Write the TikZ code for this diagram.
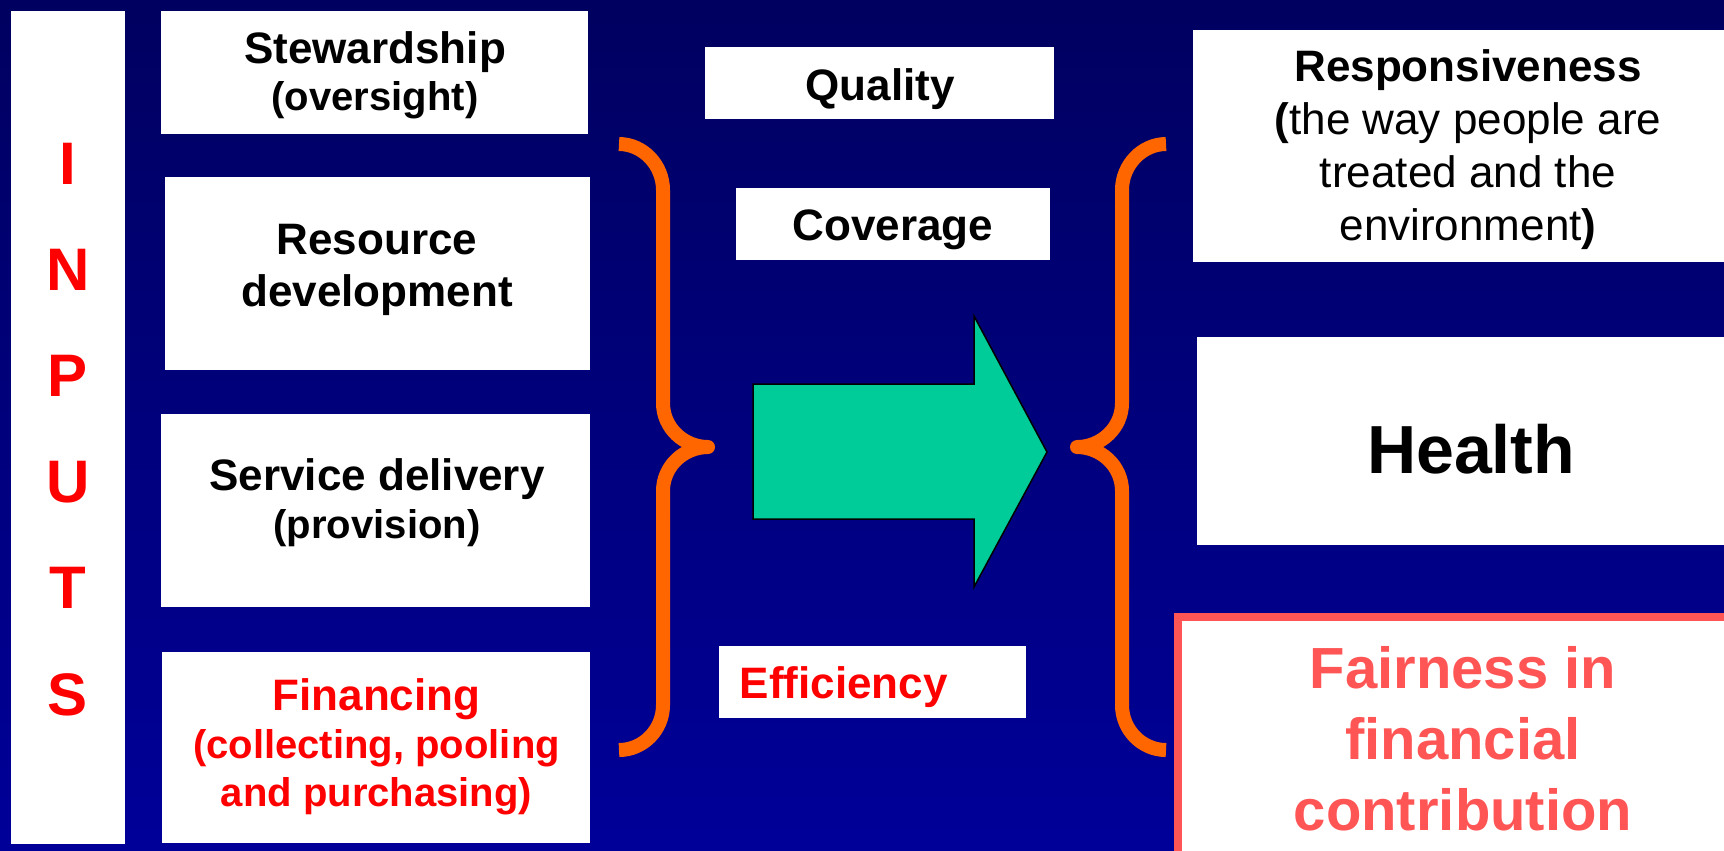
\documentclass[tikz,border=0pt]{standalone}
\usepackage{fontspec}
\setmainfont{Liberation Sans}
\usetikzlibrary{fit}

\definecolor{navytop}{HTML}{000060}
\definecolor{navybot}{HTML}{000099}
\definecolor{braceorange}{HTML}{FF6600}
\definecolor{arrowgreen}{HTML}{00CC99}
\definecolor{fairred}{HTML}{FF5555}

\newcommand{\smallpx}{\fontsize{11.38pt}{13.66pt}\selectfont}

\tikzset{
  box/.style={fill=white, inner sep=0pt, outer sep=0pt},
  lbl/.style={inner sep=0pt, align=center, font=\bfseries\fontsize{12.52pt}{13.66pt}\selectfont},
  inputs/.style={inner sep=0pt, text=red, font=\bfseries\fontsize{17.07pt}{18pt}\selectfont},
  brace/.style={draw=braceorange, line width=3.98pt, line join=round},
}

\begin{document}
\begin{tikzpicture}[x=0.01cm, y=-0.01cm]
          \useasboundingbox (0,0) rectangle (1724,850);
          \shade[top color=navytop, bottom color=navybot] (0,0) rectangle (1724,850);
          \clip (0,0) rectangle (1724,850);

          % inputs column
          \node[box, fit={(11,11) (125,844)}] (inbar) {};
          \foreach \l [count=\i from 0] in {I,N,P,U,T,S} {
            \node[inputs, anchor=base] (in\l) at (68,{184+106.2*\i}) {\l};
          }

          % the four functions
          \node[box, fit={(161,11) (588,134)}] (stew) {};
          \node[box, fit={(165,177) (590,370)}] (resdev) {};
          \node[box, fit={(161,414) (590,607)}] (servdel) {};
          \node[box, fit={(162,652) (590,843)}] (fin) {};
          \node[lbl, font=\bfseries\fontsize{12.52pt}{13.37pt}\selectfont] (stew-t) at (375,75) {Stewardship\\{\smallpx(oversight)}};
          \node[lbl, font=\bfseries\fontsize{12.52pt}{14.79pt}\selectfont] (resdev-t) at (377,269.5) {Resource\\development};
          \node[lbl] (servdel-t) at (377,502.5) {Service delivery\\{\smallpx(provision)}};
          \node[lbl, text=red, font=\bfseries\fontsize{11.38pt}{13.66pt}\selectfont] (fin-t) at (376.5,746.5)
            {{\fontsize{12.52pt}{13.66pt}\selectfont Financing}\\(collecting, pooling\\and purchasing)};

          % intermediate goals
          \node[box, fit={(705,47) (1054,119)}] (qual) {};
          \node[box, fit={(736,188) (1050,260)}] (cov) {};
          \node[box, fit={(719,646) (1026,718)}] (eff) {};
          \node[lbl, anchor=base] (qual-t) at (880,100) {Quality};
          \node[lbl, anchor=base] (cov-t) at (893,240) {Coverage};
          \node[lbl, anchor=base west, text=red] (eff-t) at (739,698) {Efficiency};

          % braces and arrow
          \draw[brace] (619,144) .. controls (643,144) and (663,165) .. (663,190) -- (663,403)
            .. controls (663,428) and (684,447) .. (708,447)
            .. controls (684,447) and (663,466) .. (663,491) -- (663,705)
            .. controls (663,730) and (643,750) .. (619,750);
          \draw[brace] (1166,144) .. controls (1142,144) and (1122,165) .. (1122,190) -- (1122,403)
            .. controls (1122,428) and (1101,447) .. (1077,447)
            .. controls (1101,447) and (1122,466) .. (1122,491) -- (1122,705)
            .. controls (1122,730) and (1142,750) .. (1166,750);
          \draw[fill=arrowgreen, line width=0.43pt] (753,384) -- (974,384) -- (974,316) -- (1047,452)
            -- (974,587) -- (974,519) -- (753,519) -- cycle;

          % goals
          \node[box, fit={(1193,30) (1740,262)}] (resp) {};
          \node[box, fit={(1197,337) (1740,545)}] (health) {};
          \node[box, draw=fairred, line width=2.28pt, fit={(1178,617) (1760,880)}] (fair) {};
          \node[lbl, font=\fontsize{12.52pt}{15.08pt}\selectfont] (resp-t) at (1468,149.5)
            {\textbf{Responsiveness}\\\textbf{(}the way people are\\treated and the\\environment\textbf{)}};
          \node[lbl, anchor=base, font=\bfseries\fontsize{19.35pt}{22pt}\selectfont] (health-t) at (1471,473) {Health};
          \node[lbl, text=fairred, font=\bfseries\fontsize{16.5pt}{20.06pt}\selectfont] (fair-t) at (1463,738.7)
            {Fairness in\\financial\\contribution};
        \end{tikzpicture}
\end{document}
